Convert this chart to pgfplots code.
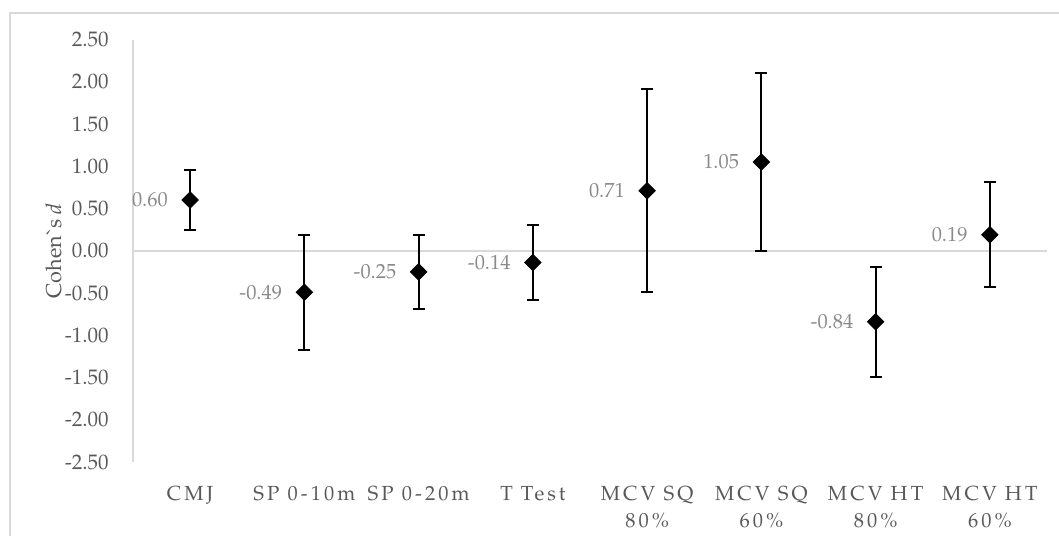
\documentclass[border=0pt]{standalone}
\usepackage{pgfplots}
\pgfplotsset{compat=1.18}
\usepackage{pgfplotstable}
\usepackage{fontspec}
\setmainfont{TeX Gyre Pagella}
\definecolor{tickgray}{HTML}{595959}
\definecolor{labgray}{HTML}{8A8A8A}
\definecolor{linegray}{HTML}{D9D9D9}

% effect sizes with 95% CI (upper and lower distance)
\pgfplotstableread{
x  y      ep    em    lab
0  0.60   0.36  0.35  0.60
1  -0.49  0.68  0.68  -0.49
2  -0.25  0.44  0.44  -0.25
3  -0.14  0.44  0.44  -0.14
4  0.71   1.20  1.20  0.71
5  1.05   1.05  1.05  1.05
6  -0.84  0.65  0.65  -0.84
7  0.19   0.62  0.62  0.19
}\cohen

\begin{document}
\begin{tikzpicture}
\begin{axis}[
    at={(0pt,0pt)}, anchor=south west,
    scale only axis,
    width=457pt, height=211.25pt,
    xmin=-0.5, xmax=7.5,
    ymin=-2.5, ymax=2.5,
    clip=false,
    axis x line=bottom, axis y line=left,
    x axis line style={draw=none},
    y axis line style={draw=linegray, line width=0.75pt, -},
    xtick style={draw=none}, ytick style={draw=none},
    xtick={0,...,7},
    xticklabels={CMJ, SP 0-10m, SP 0-20m, T Test, MCV SQ\\80\%, MCV SQ\\60\%, MCV HT\\80\%, MCV HT\\60\%},
    xticklabel style={anchor=north, align=center, text=tickgray, yshift=-6.5pt,
        font=\fontsize{10.2}{13.25}\selectfont\addfontfeatures{LetterSpace=15}},
    ytick={-2.5,-2,...,2.5},
    yticklabels={-2.50,-2.00,-1.50,-1.00,-0.50,0.00,0.50,1.00,1.50,2.00,2.50},
    yticklabel style={text=tickgray, xshift=-6.5pt, font=\fontsize{10.5}{12}\selectfont},
  ]
  \draw[linegray, line width=0.75pt] (axis cs:-0.5,0) -- (axis cs:7.5,0);

  \addplot[
      only marks, black,
      mark=square*, mark size=2.9pt,
      mark options={rotate=45, fill=black},
      error bars/.cd, y dir=both, y explicit,
      error bar style={line width=1pt, black},
      error mark options={rotate=90, mark size=3pt, line width=1pt, black},
    ]
    table[x=x, y=y, y error plus=ep, y error minus=em] {\cohen};

  \addplot[
      only marks, mark=none,
      nodes near coords, point meta=explicit symbolic,
      nodes near coords align={left},
      every node near coord/.append style={anchor=east, inner sep=0pt, xshift=-11pt,
          text=labgray, font=\fontsize{10.2}{12}\selectfont},
    ]
    table[x=x, y=y, meta=lab] {\cohen};
\end{axis}
\node[rotate=90, text=tickgray, font=\fontsize{10.8}{12}\selectfont] at (-39.5pt,105.6pt) {Cohen\textasciigrave s \textit{d}};
\draw[linegray, line width=0.8pt] (-61.5pt,-60pt) -- (-61.5pt,224.5pt) -- (490pt,224.5pt);
\pgfresetboundingbox
\useasboundingbox (-66.5pt,-36.5pt) rectangle (463pt,231pt);
\end{tikzpicture}
\end{document}
